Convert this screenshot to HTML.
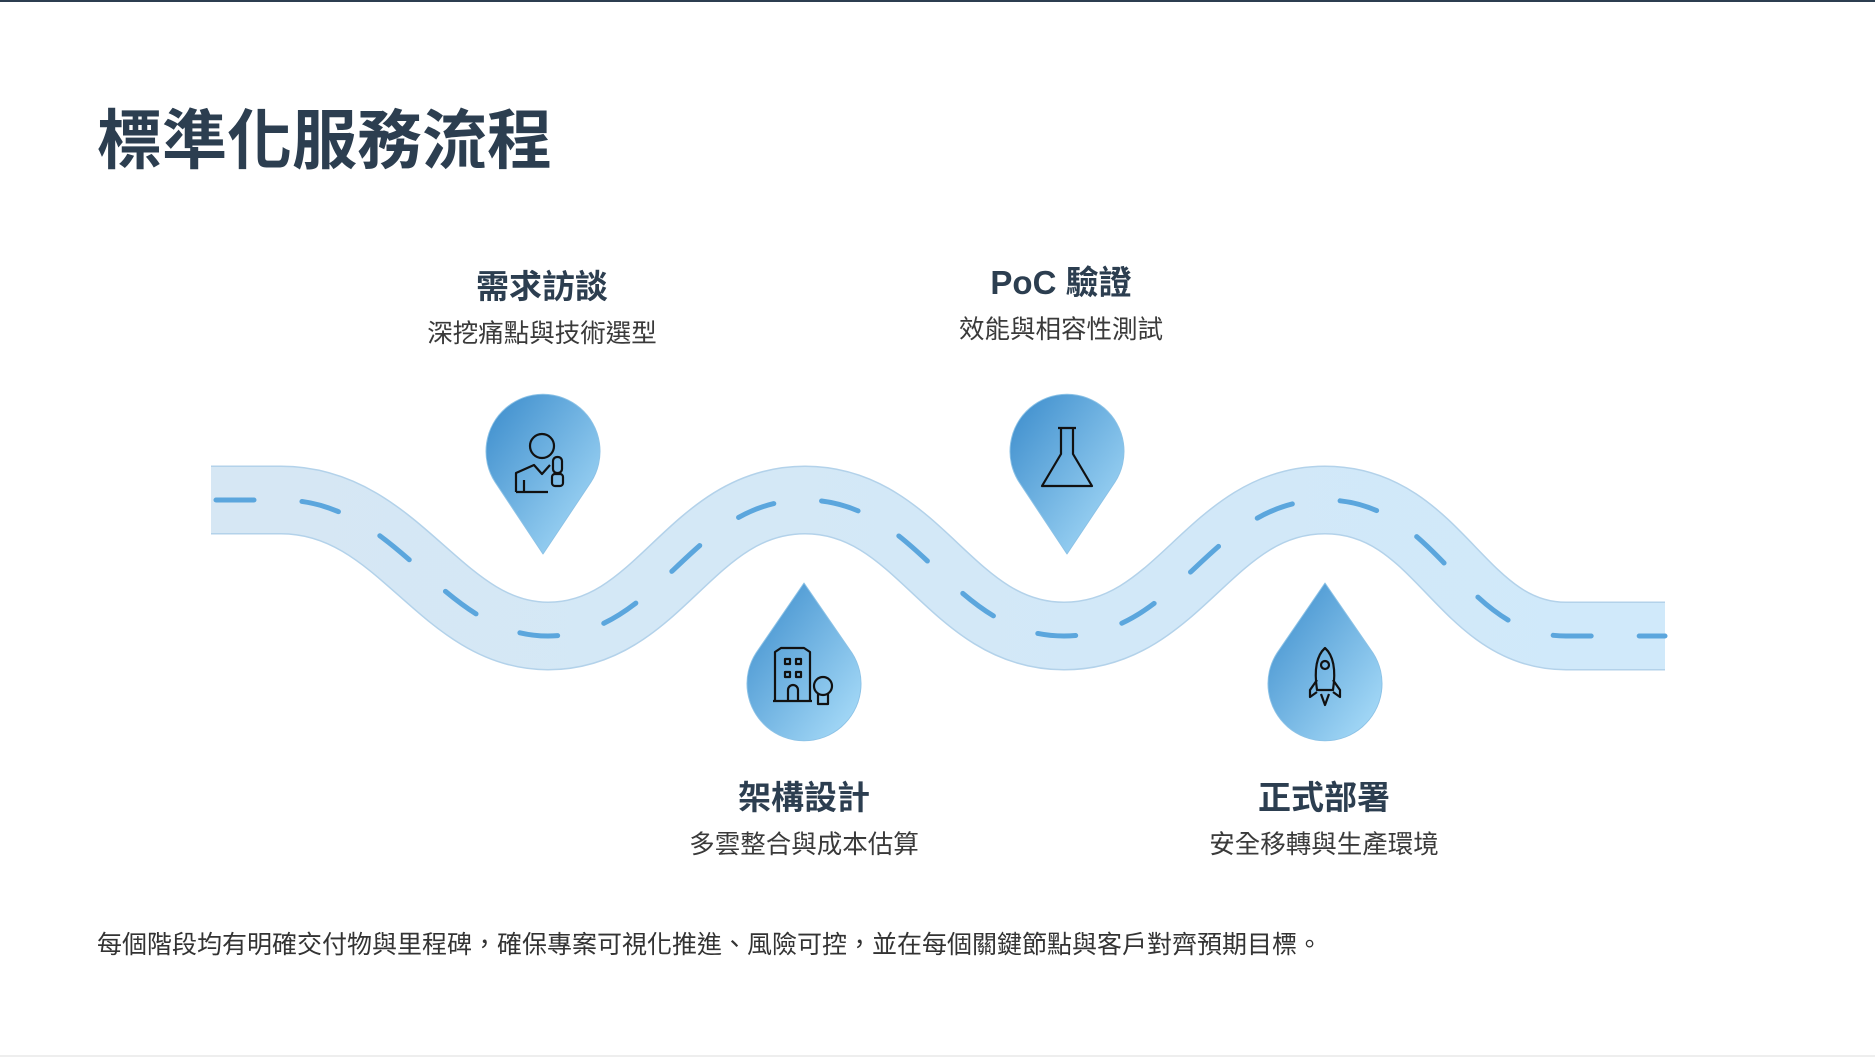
<!DOCTYPE html>
<html><head><meta charset="utf-8">
<style>
html,body{margin:0;padding:0;background:#fff;}
body{width:1875px;height:1057px;position:relative;overflow:hidden;font-family:"Liberation Sans","Noto Sans CJK TC",sans-serif;}
.top{position:absolute;left:0;top:0;width:1875px;height:2px;background:#2c3e50;}
.bot{position:absolute;left:0;top:1055px;width:1875px;height:2px;background:#eee;}
h1{position:absolute;left:97px;top:88px;margin:0;font-size:65px;font-weight:700;color:#2c3e50;letter-spacing:0px;}
.lab{position:absolute;width:400px;text-align:center;color:#2c3e50;}
.lab b{display:block;font-size:33px;font-weight:700;line-height:40px;}
.lab span{display:block;font-size:25.5px;line-height:30px;margin-top:12px;color:#3a3a3a;}
.foot{position:absolute;left:97px;top:925px;font-size:25px;color:#333;white-space:nowrap;}
svg{position:absolute;left:0;top:0;}
</style></head><body>
<div class="top"></div><div class="bot"></div>
<h1>標準化服務流程</h1>
<svg width="1875" height="1057" viewBox="0 0 1875 1057">
<defs>
<linearGradient id="g" x1="0" y1="0" x2="1" y2="1">
<stop offset="0" stop-color="#3a8bcb"/><stop offset="1" stop-color="#aee0fb"/>
</linearGradient>
<linearGradient id="r" x1="0" y1="0" x2="1" y2="0">
<stop offset="0" stop-color="#d6e7f4"/><stop offset="1" stop-color="#d0e9fa"/>
</linearGradient>
</defs>
<path d="M210 500 L281 500 C400 500 440 636 548 636 C660 636 690 500 805 500 C920 500 950 636 1064 636 C1180 636 1210 500 1325 500 C1440 500 1460 636 1566 636 L1665 636" fill="none" stroke="#b3d2ea" stroke-width="69"/>
<path d="M210 500 L281 500 C400 500 440 636 548 636 C660 636 690 500 805 500 C920 500 950 636 1064 636 C1180 636 1210 500 1325 500 C1440 500 1460 636 1566 636 L1665 636" fill="none" stroke="url(#r)" stroke-width="66"/>
<rect x="208" y="464" width="3" height="72" fill="#fff"/>
<rect x="1665" y="600" width="3" height="72" fill="#fff"/>
<path d="M210 500 L281 500 C400 500 440 636 548 636 C660 636 690 500 805 500 C920 500 950 636 1064 636 C1180 636 1210 500 1325 500 C1440 500 1460 636 1566 636 L1665 636" fill="none" stroke="#5ba6dd" stroke-width="5" stroke-linecap="round" stroke-dasharray="38 48" stroke-dashoffset="-6"/>
<g><path d="M543 554 L495 482 A57 57 0 1 1 591 482 Z" fill="url(#g)" stroke="#8cc2e6" stroke-width="1" stroke-linejoin="round"/></g>
<g><path d="M1067 554 L1019 482 A57 57 0 1 1 1115 482 Z" fill="url(#g)" stroke="#8cc2e6" stroke-width="1" stroke-linejoin="round"/></g>
<g><path d="M804 583 L756 653 A57 57 0 1 0 852 653 Z" fill="url(#g)" stroke="#8cc2e6" stroke-width="1" stroke-linejoin="round"/></g>
<g><path d="M1325 583 L1277 653 A57 57 0 1 0 1373 653 Z" fill="url(#g)" stroke="#8cc2e6" stroke-width="1" stroke-linejoin="round"/></g>
<g fill="none" stroke="#111" stroke-width="2.2" stroke-linejoin="round">
<circle cx="542" cy="446" r="12"/>
<path d="M516 492 V473 L534 465 L542 474 L550 465 M524 492 V480 M516 492 H548"/>
<rect x="553" y="457" width="9" height="16" rx="4"/>
<rect x="552" y="474" width="11" height="12" rx="3"/>
</g>
<g fill="none" stroke="#111" stroke-width="2.2" stroke-linejoin="round">
<path d="M1058 428 H1076 M1061 428 V454 L1042 486 H1092 L1073 454 V428"/>
</g>
<g fill="none" stroke="#111" stroke-width="2.2" stroke-linejoin="round">
<path d="M775 701 V652 L781 648 H804 L810 652 V701 M773 701 H812"/>
<rect x="785" y="659" width="5" height="5"/><rect x="796" y="659" width="5" height="5"/>
<rect x="785" y="672" width="5" height="5"/><rect x="796" y="672" width="5" height="5"/>
<path d="M788 701 V690 A5 5 0 0 1 798 690 V701"/>
<circle cx="823" cy="686" r="9"/><path d="M818 694 V704 H828 V694"/>
</g>
<g fill="none" stroke="#111" stroke-width="2.2" stroke-linejoin="round">
<path d="M1325 648 C1334 656 1336 670 1333 690 H1317 C1314 670 1316 656 1325 648 Z"/>
<circle cx="1325" cy="665" r="4"/>
<path d="M1317 680 L1310 690 V697 L1317 692 M1333 680 L1340 690 V697 L1333 692 M1321 694 L1325 705 L1329 694"/>
</g>
</svg>
<div class="lab" style="left:342px;top:267px"><b>需求訪談</b><span>深挖痛點與技術選型</span></div>
<div class="lab" style="left:861px;top:263px"><b>PoC 驗證</b><span>效能與相容性測試</span></div>
<div class="lab" style="left:604px;top:778px"><b>架構設計</b><span>多雲整合與成本估算</span></div>
<div class="lab" style="left:1124px;top:778px"><b>正式部署</b><span>安全移轉與生產環境</span></div>
<div class="foot">每個階段均有明確交付物與里程碑，確保專案可視化推進、風險可控，並在每個關鍵節點與客戶對齊預期目標。</div>
</body></html>
